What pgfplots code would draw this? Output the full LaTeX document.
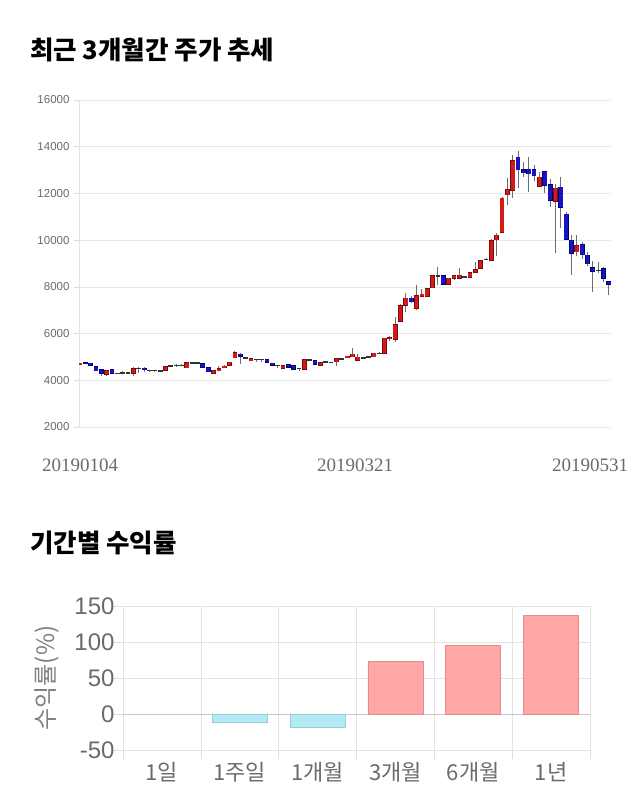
\documentclass[border=0pt]{standalone}
\usepackage{fontspec}
\usepackage{pgfplots}
\usepackage{pgfplotstable}
\pgfplotsset{compat=1.18}
\setmainfont{Liberation Sans}
\newfontfamily\cjk{Noto Sans CJK KR}
\newfontfamily\datefont{Liberation Serif}
\definecolor{upfill}{HTML}{D21A1A}
\definecolor{updraw}{HTML}{7A0A0A}
\definecolor{dnfill}{HTML}{1414C8}
\definecolor{dndraw}{HTML}{00006E}
\definecolor{flat}{HTML}{333333}
\definecolor{wick}{HTML}{6E6E6E}
\definecolor{posfill}{HTML}{FFA6A6}
\definecolor{posdraw}{HTML}{E48C8C}
\definecolor{negfill}{HTML}{B4EAF3}
\definecolor{negdraw}{HTML}{8FCFDF}
\definecolor{txt}{HTML}{6A6A6A}
% up (close > open) candles
\pgfplotstableread{
i o h l c
0 4680 4760 4670 4730
5 4260 4430 4180 4410
10 4300 4560 4200 4500
16 4440 4600 4420 4580
20 4530 4790 4520 4750
25 4300 4420 4280 4400
26 4410 4620 4390 4500
27 4560 4650 4540 4600
28 4640 4790 4620 4770
29 4970 5260 4950 5180
32 4830 4930 4820 4910
38 4520 4650 4500 4630
42 4470 4900 4460 4870
45 4650 4770 4620 4750
48 4800 4940 4600 4910
50 4990 5060 4970 5030
51 5010 5370 4990 5110
52 4870 5120 4860 4980
55 5010 5180 4990 5150
57 5150 5830 5130 5800
58 5790 5900 5700 5830
59 5770 6700 5620 6370
60 6540 7250 6500 7180
61 7220 7750 6940 7510
63 7080 8080 7000 7610
64 7610 7900 7580 7680
65 7610 7950 7580 7910
66 7970 8520 7950 8470
69 8120 8400 8080 8370
70 8370 8520 8300 8480
71 8380 8800 8370 8490
73 8420 8620 8390 8590
74 8630 9080 8600 8720
75 8800 9150 8770 9110
77 9150 10060 9100 9980
78 10010 10310 9300 10200
79 10350 11830 10300 11790
80 11940 12650 11510 12150
81 12150 13650 11800 13400
86 12310 12900 12280 12690
89 11670 12400 9460 12220
93 9510 10200 9300 9750
}\upcandles
% down (close < open) candles
\pgfplotstableread{
i o h l c
1 4740 4780 4700 4730
2 4730 4760 4640 4650
3 4580 4600 4400 4410
4 4440 4460 4180 4300
6 4440 4450 4280 4300
12 4520 4560 4350 4450
23 4700 4720 4540 4560
24 4540 4560 4340 4360
30 5110 5150 4700 5040
35 4870 4880 4760 4770
36 4730 4750 4630 4650
39 4670 4690 4560 4570
40 4610 4620 4450 4470
44 4830 4850 4690 4700
62 7510 7600 7300 7370
68 8480 8520 8080 8120
82 13550 13820 12250 13010
83 13010 13360 12700 12880
84 13040 13540 12070 12840
85 13010 13200 12550 12750
87 12920 12980 12000 12350
88 12370 12600 11400 11700
90 12260 12720 10500 11400
91 11110 11200 10000 10050
92 9990 10200 8510 9440
94 9810 9900 9200 9370
95 9350 9500 8900 9000
96 8820 9100 7780 8680
98 8780 8850 8200 8360
99 8220 8250 7650 8120
}\dncandles
% nearly unchanged candles
\pgfplotstableread{
i o h l c
7 4300 4320 4280 4290
8 4310 4380 4260 4330
9 4330 4360 4310 4330
11 4500 4560 4330 4520
13 4430 4450 4380 4410
14 4420 4440 4390 4420
15 4410 4440 4380 4420
17 4620 4660 4580 4620
18 4630 4680 4590 4640
19 4650 4680 4600 4640
21 4760 4800 4730 4760
22 4760 4790 4720 4740
31 4980 5010 4900 4970
33 4900 4930 4800 4900
34 4900 4920 4800 4890
37 4640 4660 4540 4630
41 4530 4540 4400 4510
43 4870 4900 4850 4870
46 4790 4830 4770 4800
47 4780 4800 4750 4770
49 4920 4960 4900 4930
53 4960 5000 4940 4970
54 4990 5040 4980 5010
56 5150 5190 5130 5150
67 8480 8860 8080 8490
72 8440 8480 8400 8440
76 9170 9240 9150 9190
97 8720 9050 8600 8720
}\flatcandles
\pgfplotsset{
  nomark/.style={only marks, mark=*, mark size=0.1pt, mark options={draw opacity=0, fill opacity=0}},
  wickplot/.style={nomark, error bars/error bar style={line width=0.9pt, color=wick}},
  bodyplot/.style 2 args={nomark, error bars/error bar style={line width=#1, color=#2}},
}
\begin{document}
\begin{tikzpicture}
\useasboundingbox (0,0) rectangle (640pt,-810pt);
\node[anchor=west, inner sep=0pt] at (30pt,-50pt) {\cjk\bfseries\fontsize{25.5}{25.5}\selectfont 최근 3개월간 주가 추세};
\node[anchor=west, inner sep=0pt] at (30pt,-543pt) {\cjk\bfseries\fontsize{25.5}{25.5}\selectfont 기간별 수익률};
% candlestick chart
\begin{axis}[
  at={(79pt,-427pt)}, anchor=south west, scale only axis,
  width=532pt, height=327pt,
  xmin=-0.19, xmax=99.4, ymin=2000, ymax=16000,
  ytick={2000,4000,...,16000},
  ymajorgrids, grid style={draw=gray!18, line width=0.6pt},
  axis lines*=left,
  x axis line style={draw=none},
  y axis line style={draw=gray!22, line width=0.8pt},
  y tick style={draw=gray!30, line width=0.6pt},
  tick align=outside, major tick length=5pt,
  x tick style={draw=none},
  xtick={0,51.5,95.5},
  xticklabels={20190104,20190321,20190531},
  xticklabel style={anchor=center, yshift=-33pt, font=\datefont\fontsize{19}{19}\selectfont, text=txt},
  yticklabel style={font=\fontsize{11.5}{11.5}\selectfont, text=txt, xshift=-1pt},
  /pgf/number format/assume math mode=true,
  /pgf/number format/1000 sep={},
  scaled y ticks=false,
  error bars/y dir=both, error bars/y explicit, error bars/error mark=none,
]
% wicks
\addplot[wickplot] table[x=i, y expr={(\thisrow{h}+\thisrow{l})/2}, y error expr={(\thisrow{h}-\thisrow{l})/2}] {\upcandles};
\addplot[wickplot] table[x=i, y expr={(\thisrow{h}+\thisrow{l})/2}, y error expr={(\thisrow{h}-\thisrow{l})/2}] {\dncandles};
\addplot[wickplot] table[x=i, y expr={(\thisrow{h}+\thisrow{l})/2}, y error expr={(\thisrow{h}-\thisrow{l})/2}] {\flatcandles};
% up bodies
\addplot[bodyplot={4.8pt}{updraw}] table[x=i, y expr={(\thisrow{o}+\thisrow{c})/2}, y error expr={abs(\thisrow{c}-\thisrow{o})/2+25}] {\upcandles};
\addplot[bodyplot={3.6pt}{upfill}] table[x=i, y expr={(\thisrow{o}+\thisrow{c})/2}, y error expr={abs(\thisrow{c}-\thisrow{o})/2}] {\upcandles};
% down bodies
\addplot[bodyplot={4.8pt}{dndraw}] table[x=i, y expr={(\thisrow{o}+\thisrow{c})/2}, y error expr={abs(\thisrow{c}-\thisrow{o})/2+25}] {\dncandles};
\addplot[bodyplot={3.6pt}{dnfill}] table[x=i, y expr={(\thisrow{o}+\thisrow{c})/2}, y error expr={abs(\thisrow{c}-\thisrow{o})/2}] {\dncandles};
% flat bodies
\addplot[bodyplot={4.8pt}{flat}] table[x=i, y expr={(\thisrow{o}+\thisrow{c})/2}, y error expr={max(abs(\thisrow{c}-\thisrow{o})/2,22)}] {\flatcandles};
\end{axis}
% returns bar chart
\begin{axis}[
  at={(123pt,-750pt)}, anchor=south west, scale only axis,
  width=467pt, height=144pt,
  xmin=0, xmax=6, ymin=-50, ymax=150,
  ytick={-50,0,50,100,150},
  xtick={0,...,6}, xticklabels={},
  extra x ticks={0.5,1.5,2.5,3.5,4.5,5.5},
  extra x tick labels={1일,1주일,1개월,3개월,6개월,1년},
  extra x tick style={major tick length=0pt, grid=none, xticklabel style={anchor=center, yshift=-22pt, font=\cjk\fontsize{22}{22}\selectfont, text=txt}},
  extra y ticks={0}, extra y tick labels={},
  extra y tick style={grid style={draw=gray!45, line width=0.9pt}},
  xmajorgrids, ymajorgrids, grid style={draw=gray!22, line width=0.6pt},
  axis lines*=left,
  axis line style={draw=gray!22, line width=0.6pt},
  tick style={draw=gray!25, line width=0.6pt},
  tick align=outside, major tick length=9pt,
  yticklabel style={font=\fontsize{24}{24}\selectfont, text=txt, xshift=4pt},
  /pgf/number format/assume math mode=true,
  ylabel={\cjk 수익률(\%)},
  ylabel style={font=\fontsize{24}{24}\selectfont, text=txt!85, at={(axis description cs:-0.162,0.5)}, anchor=center},
]
\addplot[ybar, bar width=55pt, bar shift=0pt, fill=negfill, draw=negdraw, line width=0.8pt]
  coordinates {(1.5,-11) (2.5,-18)};
\addplot[ybar, bar width=55pt, bar shift=0pt, fill=posfill, draw=posdraw, line width=0.8pt]
  coordinates {(3.5,73.6) (4.5,95.8) (5.5,137.5)};
\end{axis}
\end{tikzpicture}
\end{document}
